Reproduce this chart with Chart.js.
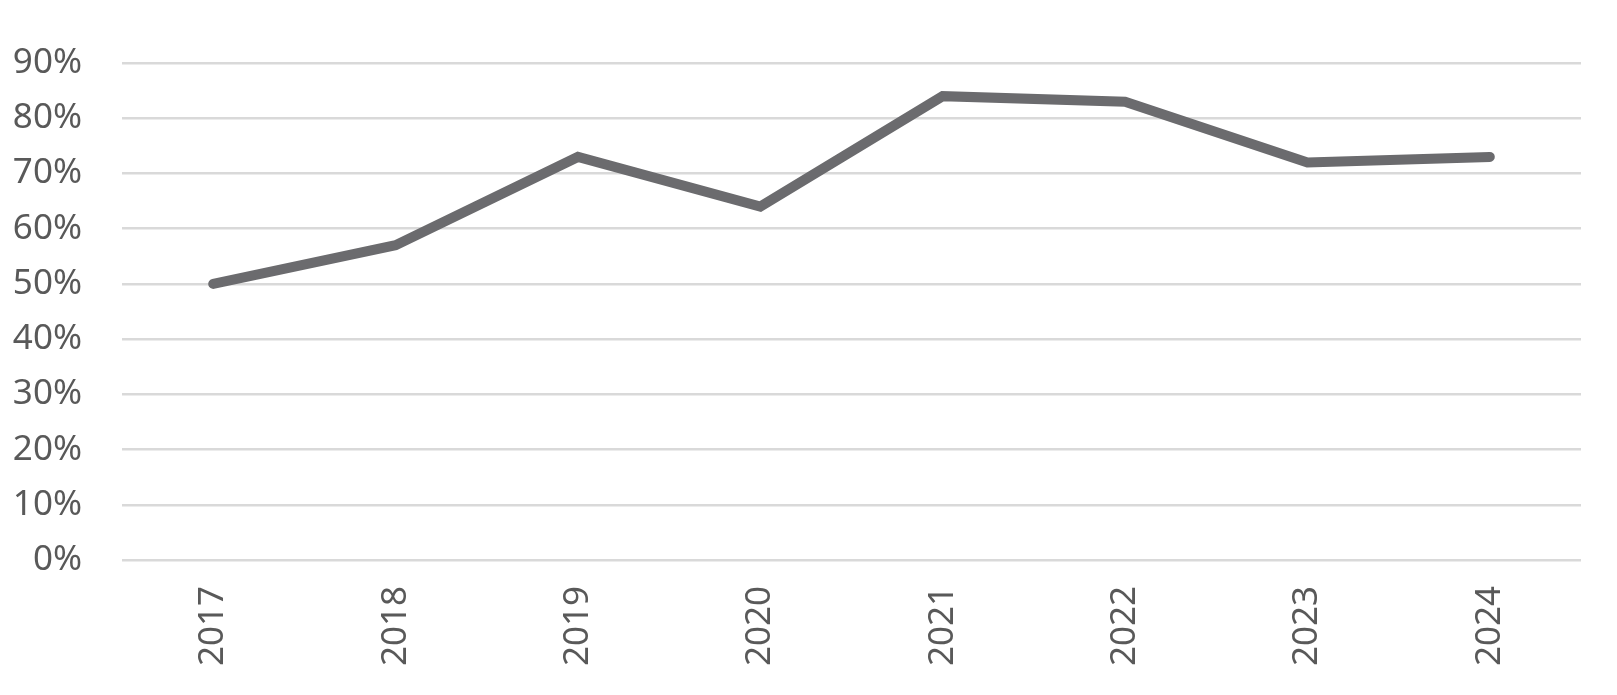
<!DOCTYPE html>
<html>
<head>
<meta charset="utf-8">
<script src="https://cdn.jsdelivr.net/npm/chart.js@4.4.1/dist/chart.umd.min.js"></script>
<style>
  html, body { margin: 0; padding: 0; background: #fff; }
  #wrap { width: 1617px; height: 695px; }
</style>
</head>
<body>
<div id="wrap"><canvas id="lineChart" width="1617" height="695"></canvas></div>
<script>
const years = ["2017", "2018", "2019", "2020", "2021", "2022", "2023", "2024"];
const shares = [50, 57, 73, 64, 84, 83, 72, 73];
const yMax = 90;
const yStep = 10;

const ctx = document.getElementById("lineChart").getContext("2d");

new Chart(ctx, {
  type: "line",
  data: {
    labels: years,
    datasets: [
      {
        data: shares,
        borderColor: "#6b6b6e",
        borderWidth: 10,
        borderCapStyle: "round",
        borderJoinStyle: "miter",
        pointRadius: 0,
        tension: 0,
        fill: false,
      },
    ],
  },
  options: {
    responsive: false,
    animation: false,
    layout: { padding: { top: 63, right: 36, bottom: 0, left: 0 } },
    plugins: { legend: { display: false }, tooltip: { enabled: false } },
    scales: {
      x: {
        offset: true,
        grid: { display: false, drawTicks: false },
        border: { display: false },
        ticks: {
          color: "#595959",
          font: { family: "Noto Sans", size: 35 },
          minRotation: 90,
          maxRotation: 90,
          padding: 26,
        },
        afterFit: (scale) => { scale.height = 135; },
      },
      y: {
        min: 0,
        max: yMax,
        grid: { color: "#d9d9d9", lineWidth: 2.5, drawTicks: false },
        border: { display: false },
        ticks: {
          stepSize: yStep,
          color: "#595959",
          font: { family: "Noto Sans", size: 35 },
          padding: 40,
          callback: (v) => v + "%",
        },
        afterFit: (scale) => { scale.width = 122; },
      },
    },
  },
});
</script>
</body>
</html>
